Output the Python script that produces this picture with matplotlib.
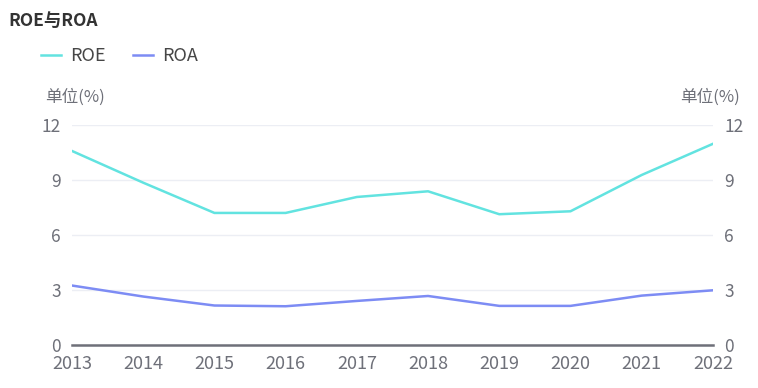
import matplotlib.pyplot as plt

plt.rcParams['font.family'] = ['Noto Sans CJK SC', 'DejaVu Sans']

years = ['2013', '2014', '2015', '2016', '2017', '2018', '2019', '2020', '2021', '2022']
roe = [10.58, 8.85, 7.2, 7.2, 8.07, 8.38, 7.13, 7.29, 9.27, 10.97]
roa = [3.24, 2.64, 2.15, 2.11, 2.4, 2.67, 2.13, 2.13, 2.69, 2.98]

grey = '#6e7079'

fig = plt.figure(figsize=(7.58, 3.88), dpi=100)
ax = fig.add_axes([0.095, 0.111, 0.8455, 0.567])
x = range(len(years))

ax.plot(x, roe, color='#62e3e0', lw=1.8, label='ROE')
ax.plot(x, roa, color='#7d8cf4', lw=1.8, label='ROA')

ax.set_xlim(0, len(years) - 1)
ax.set_ylim(0, 12)
ax.set_yticks([0, 3, 6, 9, 12])
ax.set_xticks(list(x))
ax.set_xticklabels(years)
ax.grid(axis='y', color='#eceef4', lw=1)
ax.set_axisbelow(True)
for s in ['top', 'right', 'left']:
    ax.spines[s].set_visible(False)
ax.spines['bottom'].set_color(grey)
ax.spines['bottom'].set_linewidth(1.8)
ax.tick_params(length=0, colors=grey, labelsize=12.5)
ax.tick_params(axis='x', pad=7, labelsize=13)
ax.tick_params(axis='y', pad=8)

ax2 = ax.twinx()
ax2.set_ylim(0, 12)
ax2.set_yticks([0, 3, 6, 9, 12])
for s in ax2.spines.values():
    s.set_visible(False)
ax2.tick_params(length=0, colors=grey, labelsize=12.5, pad=8)

fig.text(0.011, 0.947, 'ROE与ROA', fontsize=12.5, fontweight='bold', color='#333333', va='center')
fig.text(0.059, 0.75, '单位(%)', fontsize=12, color=grey, va='center')
fig.text(0.976, 0.75, '单位(%)', fontsize=12, color=grey, va='center', ha='right')

fig.legend(loc='center left', bbox_to_anchor=(0.033, 0.855), ncol=2, frameon=False,
           fontsize=13, handlelength=1.1, handletextpad=0.5, columnspacing=1.5,
           labelcolor='#464646')

fig.savefig('out.png', dpi=100)
